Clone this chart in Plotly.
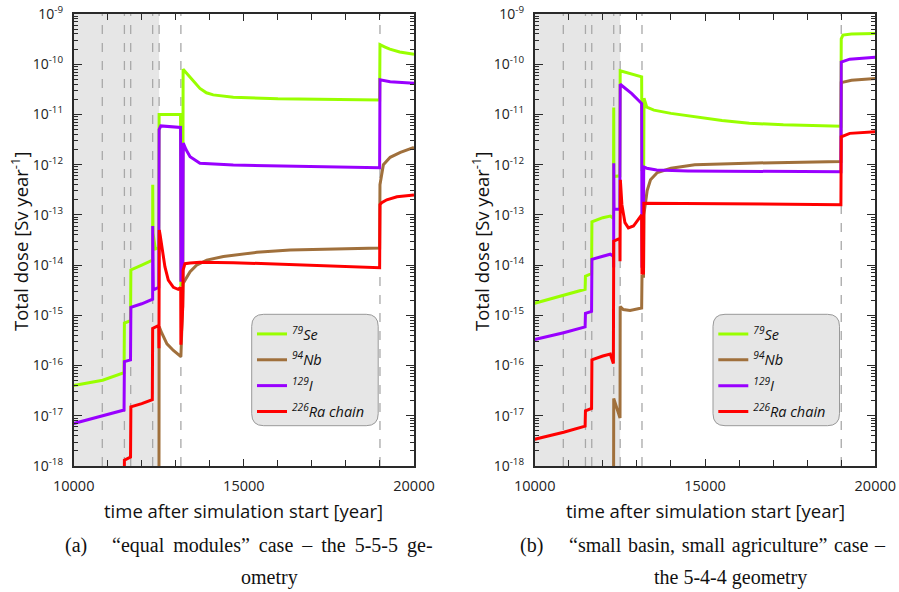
import plotly.graph_objects as go

# ---------------- data ----------------
t_range = [10000, 20000]
event_times = [10840, 11490, 11675, 12320, 12510, 13150, 19000]
shade_start, shade_end = 10000, 12510

series_names = ["<sup>79</sup>Se", "<sup>94</sup>Nb", "<sup>129</sup>I", "<sup>226</sup>Ra chain"]
series_colors = ["#99ff00", "#a0703c", "#9900ff", "#ff0000"]

x_tick_vals = [10000, 15000, 20000]
x_tick_text = ["10000", "15000", "20000"]
y_exponents = [-18, -17, -16, -15, -14, -13, -12, -11, -10, -9]
y_tick_text = ["10<sup>%d</sup>" % k for k in y_exponents]

# (a) equal modules, 5-5-5 geometry
a_se_t = [10000, 10850, 11480, 11490, 11670, 11680, 12000, 12310, 12320, 12322, 12330, 12400, 12500,
          12510, 13140, 13150, 13205, 13215, 13300, 13420, 13550, 13710, 13900, 14100, 14690, 16000,
          18990, 19000, 19150, 19290, 19580, 20000]
a_se_v = [4e-17, 5.1e-17, 7.2e-17, 7e-16, 7.8e-16, 8e-15, 1e-14, 1.26e-14, 1.26e-14, 4e-13, 4.3e-14, 2.1e-14, 2.2e-14,
          1e-11, 1e-11, 4e-15, 4e-15, 7.9e-11, 6.8e-11, 5.5e-11, 4.2e-11, 3.3e-11, 2.7e-11, 2.45e-11, 2.2e-11, 2.05e-11,
          1.95e-11, 2.45e-10, 2.2e-10, 2e-10, 1.75e-10, 1.58e-10]

a_nb_t = [12505, 12510, 12590, 12740, 12930, 13140, 13150, 13200, 13215, 13420, 13610, 13910, 14400, 15380,
          16360, 18990, 19000, 19100, 19300, 19600, 20000]
a_nb_v = [1e-19, 6e-16, 4.4e-16, 2.7e-16, 2e-16, 1.5e-16, 1.5e-16, 1.5e-15, 4.3e-15, 7.4e-15, 1e-14, 1.26e-14, 1.48e-14, 1.8e-14,
          2e-14, 2.2e-14, 4e-13, 1e-12, 1.4e-12, 1.75e-12, 2.2e-12]

a_i_t = [10000, 10850, 11480, 11490, 11670, 11680, 12000, 12320, 12321, 12330, 12340, 12500, 12510, 12560,
         13140, 13150, 13205, 13220, 13300, 13420, 13710, 14690, 18990, 19000, 19300, 20000]
a_i_v = [7e-18, 9.8e-18, 1.3e-17, 1.2e-16, 1.3e-16, 1.45e-15, 1.7e-15, 2.1e-15, 6e-14, 3.2e-15, 3.2e-15, 3.6e-15, 5e-12, 5.9e-12,
         5.5e-12, 5e-15, 5e-15, 2.7e-12, 2e-12, 1.44e-12, 1.07e-12, 9.8e-13, 8.7e-13, 4.9e-11, 4.5e-11, 4.2e-11]

a_ra_t = [11485, 11490, 11670, 11680, 12000, 12310, 12320, 12500, 12505, 12515, 12540, 12600, 12680, 12780,
          12930, 13070, 13145, 13150, 13190, 13205, 13215, 13270, 13420, 13710, 14690, 16650, 18990, 19000,
          19050, 19200, 19500, 20000]
a_ra_v = [1e-19, 1.3e-18, 1.5e-18, 1.5e-17, 1.75e-17, 2.1e-17, 5.5e-16, 6.3e-16, 2.2e-16, 5e-14, 4e-14, 2e-14, 9.3e-15, 5e-15,
          3.6e-15, 3.3e-15, 3.6e-15, 2.6e-16, 1e-15, 1.5e-15, 8e-15, 1.07e-14, 1.1e-14, 1.14e-14, 1.12e-14, 1e-14, 8.9e-15, 1.6e-13,
          1.75e-13, 2e-13, 2.3e-13, 2.5e-13]

# (b) small basin, small agriculture, 5-4-4 geometry
b_se_t = [10000, 10850, 11480, 11490, 11670, 11680, 12000, 12220, 12310, 12320, 12325, 12500, 12510, 13140,
          13150, 13200, 13210, 13290, 13500, 14000, 14400, 15500, 16300, 17300, 18990, 19000, 19050, 19300, 20000]
b_se_v = [1.74e-15, 2.5e-15, 3.3e-15, 6e-15, 6.8e-15, 7.3e-14, 8.8e-14, 9.5e-14, 8.5e-14, 1.38e-11, 5.8e-13, 6e-13, 7.4e-11, 5.6e-11,
          8e-13, 8e-13, 2.1e-11, 1.4e-11, 1.22e-11, 1.05e-11, 9.6e-12, 7.6e-12, 6.7e-12, 6.2e-12, 5.8e-12, 3.2e-10, 3.8e-10, 4e-10, 4.1e-10]

b_nb_t = [12315, 12320, 12505, 12510, 12600, 12800, 13140, 13150, 13195, 13205, 13300, 13400, 13600, 14000,
          14700, 16500, 18990, 19000, 19300, 20000]
b_nb_v = [1e-19, 2.2e-17, 9e-18, 1.5e-15, 1.3e-15, 1.25e-15, 1.4e-15, 6e-15, 6e-15, 1e-13, 3e-13, 5e-13, 7e-13, 8.5e-13,
          1e-12, 1.08e-12, 1.15e-12, 4.3e-11, 4.8e-11, 5.2e-11]

b_i_t = [10000, 10850, 11480, 11490, 11670, 11680, 12000, 12220, 12310, 12318, 12321, 12330, 12500, 12510,
         12850, 13140, 13150, 13190, 13200, 13290, 13580, 14500, 18990, 19000, 19250, 20000]
b_i_v = [3.3e-16, 4.5e-16, 5.9e-16, 1.1e-15, 1.2e-15, 1.3e-14, 1.5e-14, 1.65e-14, 1.5e-14, 9e-15, 1.07e-12, 1.3e-13, 1.3e-13, 4e-11,
         2.6e-11, 1.65e-11, 9.5e-15, 9.5e-15, 9e-13, 8.5e-13, 7.8e-13, 7.5e-13, 7.2e-13, 1.1e-10, 1.26e-10, 1.38e-10]

b_ra_t = [10000, 10850, 11480, 11490, 11670, 11680, 12000, 12220, 12310, 12320, 12500, 12505, 12515, 12560,
          12650, 12750, 12900, 13050, 13140, 13150, 13195, 13205, 18990, 19000, 19250, 20000]
b_ra_v = [3.4e-18, 4.7e-18, 6.2e-18, 1.26e-17, 1.4e-17, 1.3e-16, 1.55e-16, 1.7e-16, 1.1e-16, 3e-14, 3.4e-14, 1.2e-14, 5e-13, 1.6e-13,
          7e-14, 5.5e-14, 6e-14, 8e-14, 1e-13, 7e-15, 7e-15, 1.7e-13, 1.6e-13, 3.6e-12, 4.2e-12, 4.5e-12]

x_title = "time after simulation start [year]"
y_title = "Total dose [Sv year<sup>-1</sup>]"
caption_a = ["(a)", "\u201cequal modules\u201d case \u2013 the 5-5-5 ge-", "ometry"]
caption_b = ["(b)", "\u201csmall basin, small agriculture\u201d case \u2013", "the 5-4-4 geometry"]

# ---------------- figure ----------------
W, H = 899, 592
def px(x):
    return x / W
def py(y):
    return 1 - y / H

ydom = [py(466), py(14)]
xdoms = [[px(73.7), px(414)], [px(534.7), px(875.3)]]

fig = go.Figure()
panels = [
    ("x", "y", "legend", [(a_se_t, a_se_v), (a_nb_t, a_nb_v), (a_i_t, a_i_v), (a_ra_t, a_ra_v)]),
    ("x2", "y2", "legend2", [(b_se_t, b_se_v), (b_nb_t, b_nb_v), (b_i_t, b_i_v), (b_ra_t, b_ra_v)]),
]
for xa, ya, lg, series in panels:
    for (t, v), name, col in zip(series, series_names, series_colors):
        fig.add_trace(go.Scatter(x=t, y=v, mode="lines", name=name, xaxis=xa, yaxis=ya,
                                 line=dict(color=col, width=3), legend=lg, legendgroup=lg + name))

axis_color = "#2a2a2a"
tick_font = dict(family="Open Sans", size=14.5, color="#222222")
minor_y_vals = [m * 10.0 ** k for k in y_exponents[:-1] for m in range(2, 10)]

layout_axes = {}
for i, (xa, ya) in enumerate([("xaxis", "yaxis"), ("xaxis2", "yaxis2")]):
    xname = "x" if i == 0 else "x2"
    yname = "y" if i == 0 else "y2"
    layout_axes[xa] = dict(domain=xdoms[i], anchor=yname, range=t_range, tickvals=x_tick_vals, ticktext=x_tick_text,
                           ticks="inside", ticklen=7, tickwidth=1.2, tickcolor=axis_color, automargin=False,
                           showline=True, linecolor=axis_color, linewidth=1.8, mirror="allticks",
                           showgrid=False, zeroline=False, tickfont=tick_font, ticklabelstandoff=6,
                           minor=dict(ticks="inside", dtick=1000, ticklen=6, tickwidth=1.2, tickcolor=axis_color, showgrid=False))
    layout_axes[ya] = dict(domain=ydom, anchor=xname, type="log", range=[-18, -9], automargin=False,
                           tickvals=[10.0 ** k for k in y_exponents], ticktext=y_tick_text,
                           ticks="inside", ticklen=8, tickwidth=1.2, tickcolor=axis_color,
                           showline=True, linecolor=axis_color, linewidth=1.8, mirror="allticks",
                           showgrid=False, zeroline=False, tickfont=dict(family="Open Sans", size=14, color="#222222"),
                           ticklabelstandoff=6,
                           minor=dict(ticks="inside", tickvals=minor_y_vals, ticklen=4, tickwidth=1, tickcolor=axis_color, showgrid=False))

shapes = []
for xname in ["x", "x2"]:
    shapes.append(dict(type="rect", xref=xname, yref=("y" if xname == "x" else "y2") + " domain",
                       x0=shade_start, x1=shade_end, y0=0, y1=1, fillcolor="#e6e6e6", line=dict(width=0), layer="below"))
    for et in event_times:
        shapes.append(dict(type="line", xref=xname, yref=("y" if xname == "x" else "y2") + " domain",
                           x0=et, x1=et, y0=0, y1=1, line=dict(color="#a8a8a8", width=1.3, dash="dash"), layer="below"))

def rounded_box(x0p, y0p, x1p, y1p, r):
    rx, ry = r / W, r / H
    x0, x1 = px(x0p), px(x1p)
    yt, yb = py(y0p), py(y1p)
    return (f"M {x0+rx},{yt} L {x1-rx},{yt} Q {x1},{yt} {x1},{yt-ry} L {x1},{yb+ry} Q {x1},{yb} {x1-rx},{yb} "
            f"L {x0+rx},{yb} Q {x0},{yb} {x0},{yb+ry} L {x0},{yt-ry} Q {x0},{yt} {x0+rx},{yt} Z")

for bx in [251.7, 713]:
    shapes.append(dict(type="path", xref="paper", yref="paper", path=rounded_box(bx, 314.3, bx + 126.5, 425.7, 12),
                       fillcolor="#e6e6e6", line=dict(color="#999999", width=1), layer="above"))

legend_common = dict(bgcolor="rgba(0,0,0,0)", borderwidth=0, xanchor="left", yanchor="top",
                     font=dict(family="Open Sans", size=14.5, color="#111111", style="italic"),
                     tracegroupgap=4, itemwidth=30)

annotations = []
title_font = dict(family="Open Sans", size=18.5, color="#111111")
for cx, yx in [(243.9, 20), (705, 481)]:
    annotations.append(dict(text=x_title, x=px(cx), y=py(510), xref="paper", yref="paper", showarrow=False,
                            font=title_font, xanchor="center", yanchor="middle"))
    annotations.append(dict(text=y_title, x=px(yx), y=py(241), xref="paper", yref="paper", showarrow=False,
                            font=title_font, textangle=-90, xanchor="center", yanchor="middle"))

cap_font = dict(family="Liberation Serif", size=20, color="#111111")
# justified first caption lines: widen the word gaps slightly
cap_a_line = caption_a[1].replace(" ", " \u2009")
cap_b_line = caption_b[1].replace(" ", " \u200a")
for cap, line1, lx, tx, cx2 in [(caption_a, cap_a_line, 63, 110, 269), (caption_b, cap_b_line, 518, 567, 730)]:
    annotations.append(dict(text=cap[0], x=px(lx), y=py(545), xref="paper", yref="paper", showarrow=False,
                            font=cap_font, xanchor="left", yanchor="middle"))
    annotations.append(dict(text=line1, x=px(tx), y=py(545), xref="paper", yref="paper", showarrow=False,
                            font=cap_font, xanchor="left", yanchor="middle"))
    annotations.append(dict(text=cap[2], x=px(cx2), y=py(577), xref="paper", yref="paper", showarrow=False,
                            font=cap_font, xanchor="center", yanchor="middle"))

fig.update_layout(
    width=W, height=H, margin=dict(l=0, r=0, t=0, b=0, pad=0, autoexpand=False),
    paper_bgcolor="white", plot_bgcolor="white", showlegend=True,
    legend=dict(x=px(252), y=py(318), **legend_common),
    legend2=dict(x=px(713.3), y=py(318), **legend_common),
    shapes=shapes, annotations=annotations, **layout_axes,
)

fig.write_html("out.html")
